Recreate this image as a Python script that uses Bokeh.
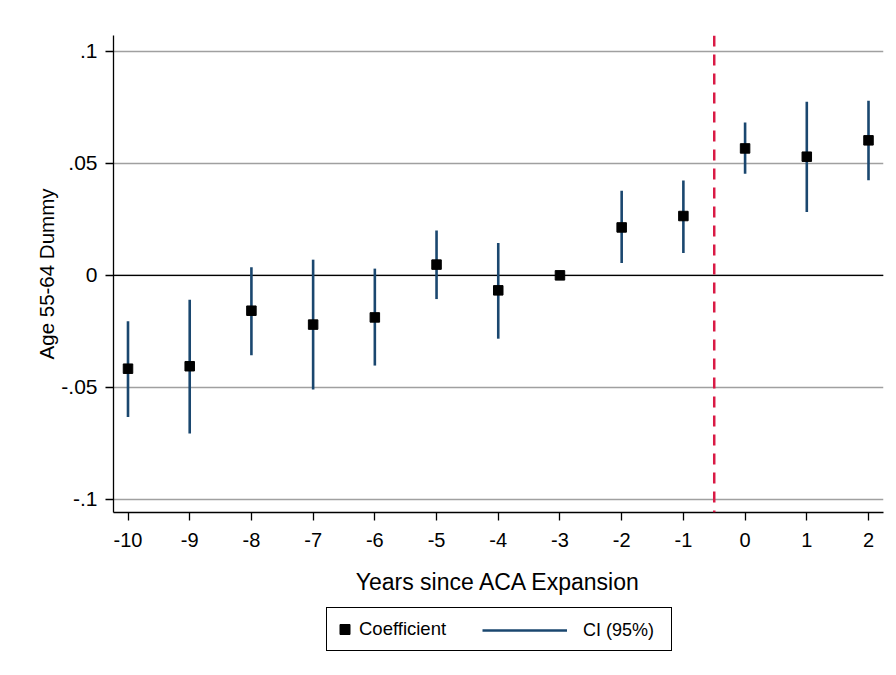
from bokeh.plotting import figure
from bokeh.layouts import column
from bokeh.models import ColumnDataSource, FixedTicker, Span, Legend, LegendItem, Range1d
from bokeh.embed import file_html
from bokeh.resources import INLINE

# ---- data ----
years = [-10, -9, -8, -7, -6, -5, -4, -3, -2, -1, 0, 1, 2]
coef = [-0.0417, -0.0406, -0.0158, -0.0220, -0.0188, 0.0048, -0.0067, 0.0, 0.0214, 0.0265, 0.0567, 0.0530, 0.0603]
ci_low = [-0.0633, -0.0707, -0.0357, -0.0510, -0.0403, -0.0106, -0.0283, 0.0, 0.0055, 0.0100, 0.0454, 0.0283, 0.0425]
ci_high = [-0.0205, -0.0109, 0.0036, 0.0070, 0.0030, 0.0200, 0.0144, 0.0, 0.0378, 0.0424, 0.0683, 0.0776, 0.0780]

y_ticks = [-0.1, -0.05, 0, 0.05, 0.1]
y_tick_labels = ["-.1", "-.05", "0", ".05", ".1"]
x_ticks = years
x_tick_labels = ["-10", "-9", "-8", "-7", "-6", "-5", "-4", "-3", "-2", "-1", "0", "1", "2"]
event_line = -0.5
x_title = "Years since ACA Expansion"
y_title = "Age 55-64 Dummy"
legend_labels = ["Coefficient", "CI (95%)"]

FONT = "Liberation Sans"
NAVY = "#1a476f"

src = ColumnDataSource(dict(year=years, coef=coef, lo=ci_low, hi=ci_high))

p = figure(frame_width=770, frame_height=477,
           x_range=Range1d(-10.235, 2.243), y_range=Range1d(-0.10594, 0.10714),
           output_backend="svg", toolbar_location=None,
           min_border_left=113, min_border_right=5, min_border_top=35, min_border_bottom=88)
p.outline_line_color = None
p.background_fill_color = "white"
p.border_fill_color = "white"

p.xaxis.ticker = FixedTicker(ticks=x_ticks)
p.yaxis.ticker = FixedTicker(ticks=y_ticks)
p.xaxis.major_label_overrides = {v: l for v, l in zip(x_ticks, x_tick_labels)}
p.yaxis.major_label_overrides = {v: l for v, l in zip(y_ticks, y_tick_labels)}
p.xaxis.axis_label = x_title
p.yaxis.axis_label = y_title

for ax in (p.xaxis[0], p.yaxis[0]):
    ax.axis_line_color = "black"
    ax.axis_line_width = 1.3
    ax.major_tick_line_color = "black"
    ax.major_tick_line_width = 1.3
    ax.major_tick_out = 8
    ax.major_tick_in = 0
    ax.minor_tick_out = 0
    ax.minor_tick_in = 0
    ax.major_label_text_font = FONT
    ax.major_label_text_color = "black"
    ax.axis_label_text_font = FONT
    ax.axis_label_text_font_style = "normal"
    ax.axis_label_text_color = "black"

p.xaxis.major_label_text_font_size = "20px"
p.xaxis.major_label_standoff = 12
p.xaxis.axis_label_text_font_size = "23px"
p.xaxis.axis_label_standoff = 19

p.yaxis.major_label_text_font_size = "21px"
p.yaxis.major_label_standoff = 8
p.yaxis.axis_label_text_font_size = "20.5px"
p.yaxis.axis_label_standoff = 0

p.xgrid.visible = False
p.ygrid.grid_line_color = "#a0a0a0"
p.ygrid.grid_line_width = 1.5

zero = Span(location=0, dimension="width", line_color="black", line_width=1.3, level="underlay")
p.add_layout(zero)

p.segment(x0="year", y0="lo", x1="year", y1="hi", source=src,
          line_color=NAVY, line_width=2.6)
p.scatter("year", "coef", source=src, marker="square", size=9.5,
          fill_color="black", line_color="black", line_width=1)

vline = Span(location=event_line, dimension="height", line_color="#d91a45",
             line_width=2.5, line_dash="11 8")
p.add_layout(vline)

# ---- legend strip: companion figure aligned with the main plot frame ----
leg = figure(frame_width=770, frame_height=46,
             min_border_left=113, min_border_right=5, min_border_top=0, min_border_bottom=0,
             x_range=Range1d(1000, 1001), y_range=Range1d(0, 1),
             x_axis_location=None, y_axis_location=None,
             output_backend="svg", toolbar_location=None)
leg.grid.visible = False
leg.outline_line_color = None
leg.background_fill_color = "white"
leg.border_fill_color = "white"
leg.margin = (7, 0, 0, 0)

# same glyph styles as the main plot, used only for the legend samples (outside the visible range)
leg_ci = leg.segment(x0="year", y0="lo", x1="year", y1="hi", source=src,
                     line_color=NAVY, line_width=2.6)
leg_pts = leg.scatter("year", "coef", source=src, marker="square", size=9.5,
                      fill_color="black", line_color="black", line_width=1)

common = dict(orientation="horizontal", margin=0, spacing=0,
              label_text_font=FONT, label_text_color="black")
leg_a = Legend(items=[LegendItem(label=legend_labels[0], renderers=[leg_pts])],
               location=(213, 2), glyph_width=25, glyph_height=32, label_standoff=2, padding=5,
               label_width=307, label_text_font_size="18.5px",
               border_line_color="black", border_line_width=1.2, border_line_alpha=1,
               background_fill_color="white", background_fill_alpha=1, **common)
leg_b = Legend(items=[LegendItem(label=legend_labels[1], renderers=[leg_ci])],
               location=(369, 10), glyph_width=85, glyph_height=26, label_standoff=16, padding=0,
               label_text_font_size="18px",
               border_line_color=None, background_fill_alpha=0, **common)
leg.add_layout(leg_a, "center")
leg.add_layout(leg_b, "center")

layout = column(p, leg)
open("out.html", "w").write(file_html(layout, INLINE))
